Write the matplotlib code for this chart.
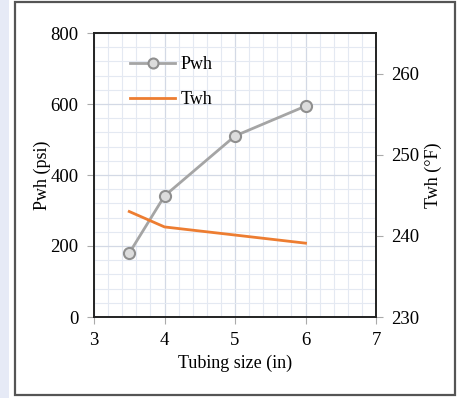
import matplotlib
matplotlib.use('Agg')
import matplotlib.pyplot as plt
from matplotlib.patches import Rectangle
from matplotlib.ticker import MultipleLocator

# ---------------- DATA ----------------
tubing_size = [3.5, 4, 5, 6]
pwh = [180, 341, 510, 594]
twh = [243.0, 241.1, 240.1, 239.1]

plt.rcParams['font.family'] = ['Liberation Serif', 'DejaVu Serif']
plt.rcParams['font.size'] = 13

fig = plt.figure(figsize=(4.59, 3.98), dpi=100)

# left strip + framed box like the source page
fig.patches.append(Rectangle((0, 0), 9 / 459, 1, transform=fig.transFigure,
                             facecolor='#e6eaf6', edgecolor='none', zorder=-10))
fig.patches.append(Rectangle((14.5 / 459, 3.5 / 398), 440 / 459, 393 / 398,
                             transform=fig.transFigure, facecolor='white',
                             edgecolor='#555555', linewidth=1.6, zorder=-10))

ax = fig.add_axes([94 / 459, 81 / 398, 282 / 459, 284 / 398])
ax.set_facecolor('none')

# grid
ax.set_xlim(3, 7)
ax.set_ylim(0, 800)
ax.xaxis.set_major_locator(MultipleLocator(1))
ax.xaxis.set_minor_locator(MultipleLocator(0.2))
ax.yaxis.set_major_locator(MultipleLocator(200))
ax.yaxis.set_minor_locator(MultipleLocator(40))
ax.grid(which='major', color='#d3d9e5', linewidth=0.9)
ax.grid(which='minor', color='#e4e9f2', linewidth=0.8)
ax.set_axisbelow(True)
ax.tick_params(which='minor', length=0)
ax.tick_params(which='major', direction='out', length=5, color='#aaaaaa',
               labelsize=13.5, pad=6)

l1, = ax.plot(tubing_size, pwh, color='#a5a5a5', linewidth=2, marker='o',
              markersize=8, markerfacecolor='#dcdcdc', markeredgecolor='#8f8f8f',
              markeredgewidth=1.5, label='Pwh', zorder=3)
ax.set_xlabel('Tubing size (in)', fontsize=13, labelpad=4)
ax.set_ylabel('Pwh (psi)', fontsize=13, labelpad=0)

ax2 = ax.twinx()
ax2.set_ylim(230, 265)
ax2.yaxis.set_major_locator(MultipleLocator(10))
ax2.tick_params(direction='out', length=5, color='#aaaaaa', labelsize=13.5, pad=6)
l2, = ax2.plot(tubing_size, twh, color='#ed7d31', linewidth=2, label='Twh')
ax2.set_ylabel('Twh (°F)', fontsize=13, labelpad=4)

for a in (ax, ax2):
    for s in a.spines.values():
        s.set_color('#222222')
        s.set_linewidth(1.2)

leg = ax.legend(handles=[l1, l2], loc='upper left', bbox_to_anchor=(0.07, 0.975),
                frameon=False, fontsize=13, handlelength=2.5, labelspacing=1.0,
                handletextpad=0.3, markerscale=0.9)

plt.savefig('out.png', dpi=100)
